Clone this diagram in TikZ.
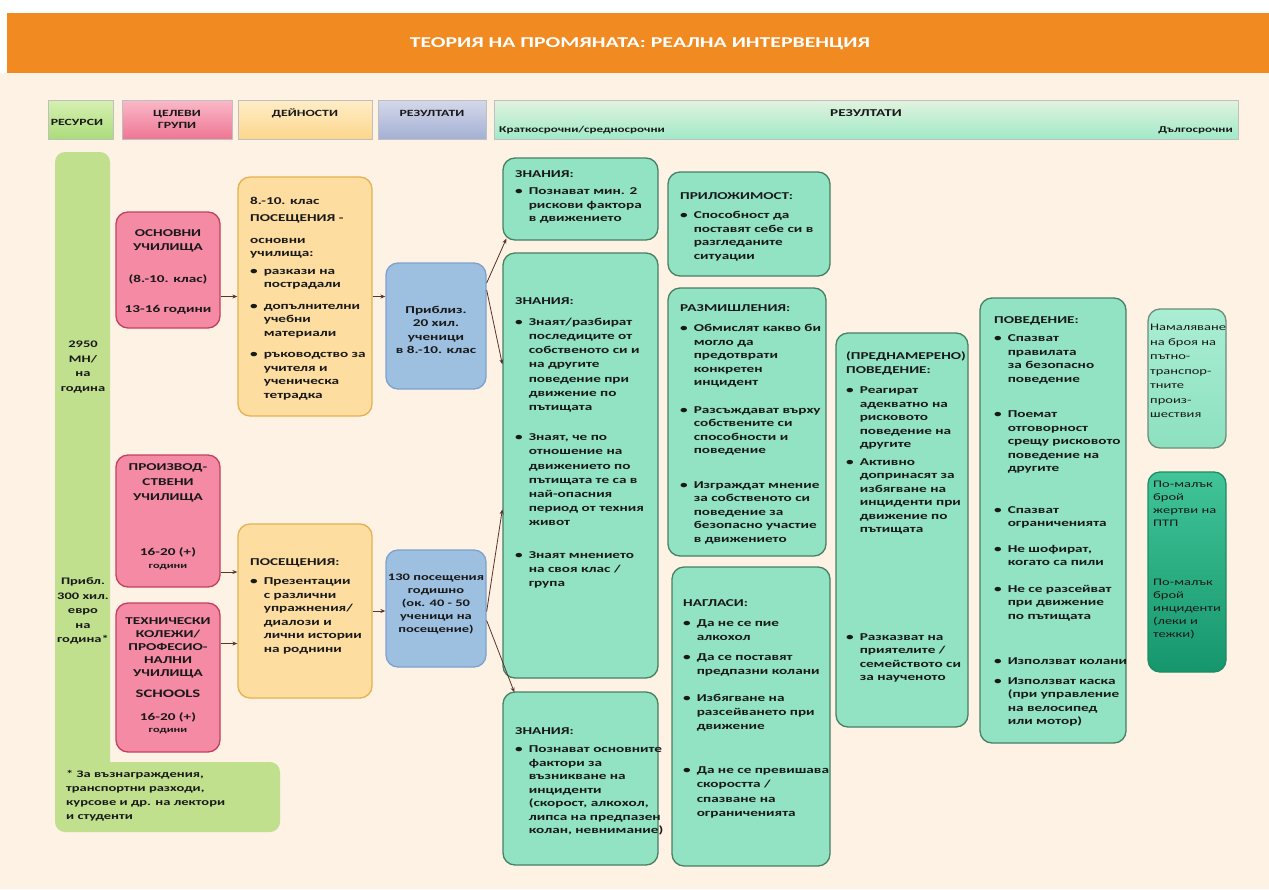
\documentclass[tikz,border=0pt]{standalone}
\usepackage{fontspec}
\setmainfont{Carlito}[FakeStretch=1.45]
\usetikzlibrary{arrows.meta,calc}
\definecolor{cream}{RGB}{253,242,228}
\definecolor{orangeband}{RGB}{242,138,34}
\definecolor{resA}{RGB}{214,240,178}
\definecolor{resB}{RGB}{172,220,122}
\definecolor{pinkA}{RGB}{250,185,200}
\definecolor{pinkB}{RGB}{238,118,148}
\definecolor{yelA}{RGB}{255,238,200}
\definecolor{yelB}{RGB}{252,214,140}
\definecolor{lavA}{RGB}{212,216,234}
\definecolor{lavB}{RGB}{164,176,212}
\definecolor{mintA}{RGB}{226,242,222}
\definecolor{mintB}{RGB}{160,234,200}
\definecolor{barfill}{RGB}{192,224,142}
\definecolor{pinkfill}{RGB}{244,138,164}
\definecolor{pinkline}{RGB}{196,64,98}
\definecolor{orfill}{RGB}{253,221,160}
\definecolor{orline}{RGB}{228,178,80}
\definecolor{bluefill}{RGB}{157,191,224}
\definecolor{blueline}{RGB}{126,162,204}
\definecolor{grfill}{RGB}{146,226,196}
\definecolor{grline}{RGB}{72,128,98}
\definecolor{ltA}{RGB}{170,238,212}
\definecolor{ltB}{RGB}{140,224,192}
\definecolor{ltline}{RGB}{110,140,120}
\definecolor{dkA}{RGB}{64,196,152}
\definecolor{dkB}{RGB}{22,150,108}
\definecolor{dkline}{RGB}{30,140,100}
\definecolor{arrowc}{RGB}{92,52,44}
\definecolor{ink}{RGB}{25,25,25}
\newcommand\blist[1]{\begin{tabular}[t]{@{}l@{\hspace{6pt}}l@{}}#1\end{tabular}}
\newcommand\bu{\textbullet}
\tikzset{
  bx/.style={rounded corners=12pt, line width=1.3pt, inner sep=0pt},
  grbox/.style={bx, draw=grline, fill=grfill},
  pkbox/.style={bx, draw=pinkline, fill=pinkfill},
  orbox/.style={bx, draw=orline, fill=orfill},
  blbox/.style={bx, draw=blueline, fill=bluefill},
  barbox/.style={rounded corners=10pt, fill=barfill, inner sep=0pt},
  hdr/.style={draw=black!25, line width=0.6pt, inner sep=0pt},
  txt/.style={anchor=north west, inner sep=0pt, align=left, text=ink, font=\bfseries\fontsize{10.5}{13.5}\selectfont},
  ctxt/.style={inner sep=0pt, align=center, text=ink, font=\bfseries\fontsize{10.5}{13.5}\selectfont},
  htxt/.style={inner sep=0pt, align=center, text=ink, font=\bfseries\fontsize{9.5}{12}\selectfont},
  arr/.style={draw=arrowc, line width=0.8pt, -{Stealth[length=5pt,width=4pt]}},
}
\begin{document}
\begin{tikzpicture}[x=1pt,y=-1pt]
\useasboundingbox (0,0) rectangle (1269,889);
% background
\fill[cream] (0,0) rectangle (1269,889);
\fill[white] (0,0) rectangle (1269,13);
\fill[white] (0,0) rectangle (7,73);
\node[fill=orangeband, minimum width=1262pt, minimum height=60pt, inner sep=0pt] (band) at (638,43) {};
\node[inner sep=0pt, text=white, font=\bfseries\fontsize{15}{18}\selectfont] (title) at (640,44) {ТЕОРИЯ НА ПРОМЯНАТА: РЕАЛНА ИНТЕРВЕНЦИЯ};

% header row
\node[hdr, top color=resA, bottom color=resB, minimum width=65pt, minimum height=39pt] (hres) at (80.5,119.5) {};
\node[htxt] (hrest) at (77,122) {РЕСУРСИ};
\node[hdr, top color=pinkA, bottom color=pinkB, minimum width=110pt, minimum height=39pt] (hcel) at (177,119.5) {};
\node[htxt] (hcelt) at (177,119) {ЦЕЛЕВИ\\ГРУПИ};
\node[hdr, top color=yelA, bottom color=yelB, minimum width=134pt, minimum height=39pt] (hdei) at (305,119.5) {};
\node[htxt] (hdeit) at (305,113) {ДЕЙНОСТИ};
\node[hdr, top color=lavA, bottom color=lavB, minimum width=108pt, minimum height=39pt] (hrez) at (432,119.5) {};
\node[htxt] (hrezt) at (432,113) {РЕЗУЛТАТИ};
\node[hdr, top color=mintA, bottom color=mintB, minimum width=744pt, minimum height=39pt] (hbig) at (866,119.5) {};
\node[htxt, font=\bfseries\fontsize{10.5}{12}\selectfont] (hbigt) at (866,113) {РЕЗУЛТАТИ};
\node[htxt, anchor=west, font=\bfseries\fontsize{9}{11}\selectfont] (hshort) at (499,130) {Краткосрочни/средносрочни};
\node[htxt, anchor=east, font=\bfseries\fontsize{9}{11}\selectfont] (hlong) at (1233,130) {Дългосрочни};

% resources bar
\node[barbox, minimum width=55pt, minimum height=628pt] (bar) at (82.5,466) {};
\node[barbox, minimum width=225pt, minimum height=70pt] (foot) at (167.5,797) {};
\node[ctxt, font=\bfseries\fontsize{10}{14.5}\selectfont] (mn) at (83,367) {2950\\МН/\\на\\година};
\node[ctxt, font=\bfseries\fontsize{10}{14.5}\selectfont] (eur) at (83,611) {Прибл.\\300 хил.\\евро\\на\\година*};
\node[txt, font=\bfseries\fontsize{10}{14}\selectfont] (fn) at (66,770) {* За възнаграждения,\\транспортни разходи,\\курсове и др. на лектори\\и студенти};

% target groups
\node[pkbox, minimum width=104pt, minimum height=116pt] (p1) at (168,270) {};
\node[ctxt] (p1a) at (168,241) {ОСНОВНИ\\УЧИЛИЩА};
\node[ctxt] (p1b) at (168,279) {(8.-10. клас)};
\node[ctxt] (p1c) at (168,310) {13-16 години};
\node[pkbox, minimum width=104pt, minimum height=132pt] (p2) at (168,521) {};
\node[ctxt, font=\bfseries\fontsize{10.5}{15}\selectfont] (p2a) at (168,483) {ПРОИЗВОД-\\СТВЕНИ\\УЧИЛИЩА};
\node[ctxt] (p2b) at (168,552) {16-20 (+)};
\node[ctxt, font=\bfseries\fontsize{8.5}{10}\selectfont] (p2c) at (168,567) {години};
\node[pkbox, minimum width=104pt, minimum height=149pt] (p3) at (168,677.5) {};
\node[ctxt, font=\bfseries\fontsize{10.5}{13}\selectfont] (p3a) at (168,648) {ТЕХНИЧЕСКИ\\КОЛЕЖИ/\\ПРОФЕСИО-\\НАЛНИ\\УЧИЛИЩА};
\node[ctxt, font=\bfseries\fontsize{11.5}{13}\selectfont] (p3b) at (168,694) {SCHOOLS};
\node[ctxt] (p3c) at (168,717) {16-20 (+)};
\node[ctxt, font=\bfseries\fontsize{8.5}{10}\selectfont] (p3d) at (168,731) {години};

% activities
\node[orbox, minimum width=134pt, minimum height=239pt] (o1) at (305,296.5) {};
\node[txt] (o1t) at (250,197) {8.-10. клас\\[4pt]ПОСЕЩЕНИЯ -\\[8pt]основни\\училища:\\[4pt]\blist{\bu & разкази на\\ & пострадали\\[8pt] \bu & допълнителни\\ & учебни\\ & материали\\[8pt] \bu & ръководство за\\ & учителя и\\ & ученическа\\ & тетрадка}};
\node[orbox, minimum width=134pt, minimum height=174pt] (o2) at (305,611) {};
\node[txt] (o2t) at (250,558) {ПОСЕЩЕНИЯ:\\[6pt]\blist{\bu & Презентации\\ & с различни\\ & упражнения/\\ & диалози и\\ & лични истории\\ & на роднини}};

% outputs
\node[blbox, minimum width=100pt, minimum height=126pt] (b1) at (436,326) {};
\node[ctxt] (b1t) at (436,330) {Приблиз.\\20 хил.\\ученици\\в 8.-10. клас};
\node[blbox, minimum width=100pt, minimum height=117pt] (b2) at (436,608.5) {};
\node[ctxt, font=\bfseries\fontsize{10}{13}\selectfont] (b2t) at (436,604) {130 посещения\\годишно\\(ок. 40 - 50\\ученици на\\посещение)};

% outcomes
\node[grbox, minimum width=155pt, minimum height=82pt] (g1) at (580.5,199) {};
\node[txt] (g1t) at (515,170) {ЗНАНИЯ:\\[4pt]\blist{\bu & Познават мин. 2\\ & рискови фактора\\ & в движението}};
\node[grbox, minimum width=155pt, minimum height=425pt] (g2) at (580.5,465.5) {};
\node[txt, font=\bfseries\fontsize{10.5}{14.2}\selectfont] (g2t) at (515,297) {ЗНАНИЯ:\\[7pt]\blist{\bu & Знаят/разбират\\ & последиците от\\ & собственото си и\\ & на другите\\ & поведение при\\ & движение по\\ & пътищата\\[16pt] \bu & Знаят, че по\\ & отношение на\\ & движението по\\ & пътищата те са в\\ & най-опасния\\ & период от техния\\ & живот\\[18pt] \bu & Знаят мнението\\ & на своя клас /\\ & група}};
\node[grbox, minimum width=155pt, minimum height=173pt] (g3) at (580.5,778.5) {};
\node[txt] (g3t) at (515,727) {ЗНАНИЯ:\\[5pt]\blist{\bu & Познават основните\\ & фактори за\\ & възникване на\\ & инциденти\\ & (скорост, алкохол,\\ & липса на предпазен\\ & колан, невнимание)}};

\node[grbox, minimum width=162pt, minimum height=104pt] (pr) at (749,224) {};
\node[txt] (prt) at (680,192) {ПРИЛОЖИМОСТ:\\[6pt]\blist{\bu & Способност да\\ & поставят себе си в\\ & разгледаните\\ & ситуации}};
\node[grbox, minimum width=158pt, minimum height=268pt] (rz) at (747,422) {};
\node[txt] (rzt) at (680,304) {РАЗМИШЛЕНИЯ:\\[7pt]\blist{\bu & Обмислят какво би\\ & могло да\\ & предотврати\\ & конкретен\\ & инцидент\\[14pt] \bu & Разсъждават върху\\ & собствените си\\ & способности и\\ & поведение\\[21pt] \bu & Изграждат мнение\\ & за собственото си\\ & поведение за\\ & безопасно участие\\ & в движението}};
\node[grbox, minimum width=158pt, minimum height=299pt] (ng) at (751,716.5) {};
\node[txt, font=\bfseries\fontsize{10.5}{14.2}\selectfont] (ngt) at (683,599) {НАГЛАСИ:\\[6pt]\blist{\bu & Да не се пие\\ & алкохол\\[6pt] \bu & Да се поставят\\ & предпазни колани\\[12pt] \bu & Избягване на\\ & разсейването при\\ & движение\\[30pt] \bu & Да не се превишава\\ & скоростта /\\ & спазване на\\ & ограниченията}};
\node[grbox, minimum width=132pt, minimum height=394pt] (pp) at (902,530) {};
\node[txt] (ppt) at (846,352) {(ПРЕДНАМЕРЕНО)\\ПОВЕДЕНИЕ:\\[7pt]\blist{\bu & Реагират\\ & адекватно на\\ & рисковото\\ & поведение на\\ & другите\\[4pt] \bu & Активно\\ & допринасят за\\ & избягване на\\ & инциденти при\\ & движение по\\ & пътищата\\[94pt] \bu & Разказват на\\ & приятелите /\\ & семейството си\\ & за наученото}};
\node[grbox, minimum width=146pt, minimum height=445pt] (pv) at (1053,520.5) {};
\node[txt] (pvt) at (994,316) {ПОВЕДЕНИЕ:\\[5pt]\blist{\bu & Спазват\\ & правилата\\ & за безопасно\\ & поведение\\[22pt] \bu & Поемат\\ & отговорност\\ & срещу рисковото\\ & поведение на\\ & другите\\[28pt] \bu & Спазват\\ & ограниченията\\[12pt] \bu & Не шофират,\\ & когато са пили\\[13pt] \bu & Не се разсейват\\ & при движение\\ & по пътищата\\[32pt] \bu & Използват колани\\[6pt] \bu & Използват каска\\ & (при управление\\ & на велосипед\\ & или мотор)}};

% long term
\node[bx, draw=ltline, top color=ltA, bottom color=ltB, minimum width=78pt, minimum height=139pt] (l1) at (1187,378.5) {};
\node[txt, font=\fontsize{10}{14.5}\selectfont] (l1t) at (1150,324) {Намаляване\\на броя на\\пътно-\\транспор-\\тните\\произ-\\шествия};
\node[bx, draw=dkline, top color=dkA, bottom color=dkB, minimum width=78pt, minimum height=200pt] (l2) at (1187,572) {};
\node[txt, font=\fontsize{10}{13}\selectfont] (l2t) at (1153,481) {По-малък\\брой\\жертви на\\ПТП\\[46pt]По-малък\\брой\\инциденти\\(леки и\\тежки)};

% connectors
\draw[arr] (p1.east |- o1.west) -- (o1.west);
\draw[arr] (o1.east) -- (b1.west |- o1.east);
\draw[arr] ($(p2.east)+(0,51)$) -- (o2.west |- {$(p2.east)+(0,51)$});
\draw[arr] ($(p3.east)+(0,-34)$) -- (o2.west |- {$(p3.east)+(0,-34)$});
\draw[arr] (o2.east) -- (b2.west |- o2.east);
\draw[arr] ($(b1.east)+(0,-43)$) -- ($(g1.south west)+(4,-2)$);
\draw[arr] ($(b1.east)+(0,-36)$) -- ($(g2.north west)+(0,112)$);
\draw[arr] ($(b2.east)+(0,3)$) -- ($(g2.north west)+(0,257)$);
\draw[arr] ($(b2.east)+(0,12)$) -- ($(g3.north west)+(12,1)$);
\end{tikzpicture}
\end{document}
